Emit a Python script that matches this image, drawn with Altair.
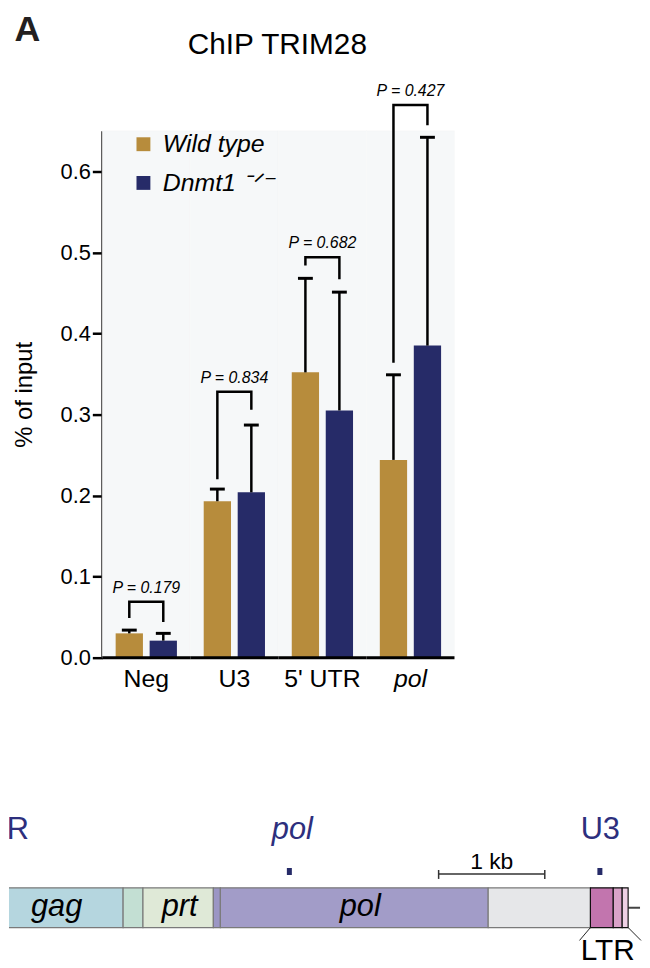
import altair as alt
import pandas as pd

FONT = "Liberation Sans"
GOLD = "#b78c3c"
NAVY = "#262b68"
LABEL_NAVY = "#2d2f7d"
BG = "#f6f8f9"

# ---------------- bar chart data ----------------
regions = ["Neg", "U3", "5' UTR", "pol"]
genotypes = ["Wild type", "Dnmt1 \u207b\u141f\u207b"]
wt_mean = [0.030, 0.193, 0.352, 0.244]
wt_upper = [0.034, 0.208, 0.468, 0.349]
ko_mean = [0.021, 0.204, 0.305, 0.385]
ko_upper = [0.030, 0.287, 0.451, 0.642]
p_labels = ["P = 0.179", "P = 0.834", "P = 0.682", "P = 0.427"]
bracket_top = [0.069, 0.328, 0.494, 0.682]
bracket_left = [0.049, 0.220, 0.484, 0.364]
bracket_right = [0.044, 0.306, 0.467, 0.657]
y_ticks = [0.0, 0.1, 0.2, 0.3, 0.4, 0.5, 0.6]
y_max = 0.65

# ---------------- genome diagram data (kb) ----------------
seg_ids = ["gag", "gag-prt", "prt", "prt-pol", "pol", "3' region", "U3", "R", "U5"]
seg_start = [0.90, 2.243, 2.430, 3.093, 3.159, 5.682, 6.645, 6.860, 6.944]
seg_end = [2.243, 2.430, 3.093, 3.159, 5.682, 6.645, 6.860, 6.944, 7.000]
seg_fill = ["#b5d6df", "#c3dfd3", "#dfe9d7", "#9b96c4", "#a29cc8", "#e6e7e9",
            "#c275ae", "#d9a2c8", "#eed0e4"]
seg_edge = ["#7a7a7a"] * 6 + ["#111111"] * 3
gene_labels = ["gag", "prt", "pol"]
gene_label_pos = [1.617, 2.776, 4.477]
amp_names = ["5' UTR", "pol", "U3"]
amp_center = [0.909, 3.809, 6.734]
amp_label_pos = [0.909, 3.837, 6.738]
amp_italic = [False, True, False]
amp_width = 0.047
scale_bar = [5.215, 6.215]
scale_label = "1 kb"
ltr_span = [6.645, 7.000]
ltr_label_pos = 6.808
ltr_fan = [6.542, 7.121]
tail_end = 7.40
diag_domain = [1.168, 7.112]

# ---------------- tables ----------------
bars_df = pd.DataFrame({
    "region": regions * 2,
    "genotype": [genotypes[0]] * 4 + [genotypes[1]] * 4,
    "mean": wt_mean + ko_mean,
    "upper": wt_upper + ko_upper,
})
br_rows = []
for i, r in enumerate(regions):
    br_rows += [
        {"region": r, "genotype": genotypes[0], "val": bracket_left[i], "k": 0},
        {"region": r, "genotype": genotypes[0], "val": bracket_top[i], "k": 1},
        {"region": r, "genotype": genotypes[1], "val": bracket_top[i], "k": 2},
        {"region": r, "genotype": genotypes[1], "val": bracket_right[i], "k": 3},
    ]
br_df = pd.DataFrame(br_rows)
p_df = pd.DataFrame({"region": regions, "val": bracket_top, "p": p_labels})
reg_df = pd.DataFrame({"region": regions})

YT = "% of input"
x_enc = alt.X(
    "region:N", sort=regions,
    scale=alt.Scale(paddingInner=0, paddingOuter=0.5296, align=1),
    axis=alt.Axis(
        title=None, ticks=False, domain=False, labelAngle=0, labelPadding=9,
        labelFontSize=25, labelColor="black", labelFont=FONT,
        labelFontStyle={"condition": {"test": "datum.value === 'pol'", "value": "italic"},
                        "value": "normal"},
    ),
)
xo_enc = alt.XOffset("genotype:N", sort=genotypes,
                     scale=alt.Scale(paddingInner=0.197, paddingOuter=0.394))
y_scale = alt.Scale(domain=[0, y_max], nice=False, zero=True)
y_axis = alt.Axis(values=y_ticks, format=".1f", grid=False, labelFontSize=22,
                  labelColor="black", labelFont=FONT, tickColor="black", tickWidth=2.5,
                  tickSize=10, labelPadding=2, domainColor="black", domainWidth=3,
                  titleFontSize=24, titleFontWeight="normal", titleColor="black",
                  titleFont=FONT, titlePadding=24, offset=-94)

def Y(f):
    return alt.Y(f, scale=y_scale, axis=y_axis, title=YT)

background = alt.Chart(reg_df).mark_rect(color=BG, stroke=BG, strokeWidth=0.6).encode(
    x=x_enc, y=alt.datum(y_max, scale=y_scale, axis=y_axis, title=YT), y2=alt.datum(0),
)
baseline = alt.Chart(reg_df).mark_rect(fill="transparent", stroke="black",
                                       strokeWidth=3).encode(
    x=x_enc, y=alt.datum(0, scale=y_scale, axis=y_axis, title=YT), y2=alt.datum(0),
)
bars = alt.Chart(bars_df).mark_bar().encode(
    x=x_enc, xOffset=xo_enc, y=Y("mean:Q"),
    color=alt.Color("genotype:N", sort=genotypes,
                    scale=alt.Scale(domain=genotypes, range=[GOLD, NAVY]),
                    legend=alt.Legend(title=None, orient="none", legendX=123, legendY=1,
                                      symbolType="square", symbolSize=196,
                                      symbolStrokeWidth=0, labelFontSize=25,
                                      labelFontStyle="italic", labelFont=FONT,
                                      labelColor="black", labelOffset=7,
                                      rowPadding=13, padding=0)),
)
err = alt.Chart(bars_df).mark_rule(color="black", strokeWidth=2.5).encode(
    x=x_enc, xOffset=xo_enc, y=Y("mean:Q"), y2="upper:Q",
)
caps = alt.Chart(bars_df).mark_tick(color="black", opacity=1, thickness=3, size=15).encode(
    x=x_enc, xOffset=xo_enc, y=Y("upper:Q"),
)
brackets = alt.Chart(br_df).mark_line(color="black", strokeWidth=2.5,
                                      strokeJoin="miter", strokeCap="butt").encode(
    x=x_enc, xOffset=xo_enc, y=Y("val:Q"),
    detail="region:N", order="k:Q",
)
ptext = alt.Chart(p_df).mark_text(fontSize=16, fontStyle="italic", font=FONT,
                                  color="black", dy=-9, baseline="alphabetic").encode(
    x=x_enc, y=Y("val:Q"), text="p:N",
)

top = alt.layer(background, bars, err, caps, brackets, ptext, baseline).properties(
    width=449, height=531,
    view=alt.ViewBackground(fill="transparent", stroke="transparent"),
    title=alt.TitleParams("ChIP TRIM28", fontSize=30, fontWeight="normal", font=FONT,
                          color="black", frame="group", anchor="middle", offset=23,
                          dx=46),
)

# ---------------- genome diagram ----------------
seg_df = pd.DataFrame({"id": seg_ids, "start": seg_start, "end": seg_end})
gene_df = pd.DataFrame({"label": gene_labels, "pos": gene_label_pos})
amp_df = pd.DataFrame({
    "name": amp_names,
    "start": [c - amp_width / 2 for c in amp_center],
    "end": [c + amp_width / 2 for c in amp_center],
    "lab": amp_label_pos,
    "italic": amp_italic,
})
sb_df = pd.DataFrame({"start": [scale_bar[0]], "end": [scale_bar[1]],
                      "mid": [(scale_bar[0] + scale_bar[1]) / 2], "label": [scale_label]})
sb_ends = pd.DataFrame({"pos": scale_bar})
ltr_df = pd.DataFrame({"label": ["LTR"], "pos": [ltr_label_pos]})
fan_df = pd.DataFrame({"a": ltr_span, "b": ltr_fan})
tail_df = pd.DataFrame({"a": [ltr_span[1]], "b": [tail_end]})

dx_scale = alt.Scale(domain=diag_domain, nice=False, zero=False)

def X(f):
    return alt.X(f, scale=dx_scale, axis=None)

segs = alt.Chart(seg_df).mark_rect(strokeWidth=1.2, clip=True).encode(
    x=X("start:Q"), x2="end:Q", y=alt.value(97), y2=alt.value(137),
    fill=alt.Fill("id:N", scale=alt.Scale(domain=seg_ids, range=seg_fill), legend=None),
    stroke=alt.Stroke("id:N", scale=alt.Scale(domain=seg_ids, range=seg_edge), legend=None),
)
genes = alt.Chart(gene_df).mark_text(fontSize=31, fontStyle="italic", font=FONT,
                                     color="black", baseline="alphabetic", clip=True).encode(
    x=X("pos:Q"), y=alt.value(125), text="label:N")
amps = alt.Chart(amp_df).mark_rect(color=NAVY, clip=True).encode(
    x=X("start:Q"), x2="end:Q", y=alt.value(77), y2=alt.value(84))
amp_lab_it = alt.Chart(amp_df).transform_filter("datum.italic").mark_text(
    fontSize=31, fontStyle="italic", font=FONT, color=LABEL_NAVY,
    baseline="alphabetic", clip=True).encode(x=X("lab:Q"), y=alt.value(48), text="name:N")
amp_lab = alt.Chart(amp_df).transform_filter("!datum.italic").mark_text(
    fontSize=31, font=FONT, color=LABEL_NAVY,
    baseline="alphabetic", clip=True).encode(x=X("lab:Q"), y=alt.value(48), text="name:N")
sbar = alt.Chart(sb_df).mark_rule(color="#333333", strokeWidth=1.5).encode(
    x=X("start:Q"), x2="end:Q", y=alt.value(83))
sticks = alt.Chart(sb_ends).mark_rule(color="#333333", strokeWidth=1.5).encode(
    x=X("pos:Q"), y=alt.value(79), y2=alt.value(88))
stext = alt.Chart(sb_df).mark_text(fontSize=23, font=FONT, color="black",
                                  baseline="alphabetic").encode(
    x=X("mid:Q"), y=alt.value(78), text="label:N")
fan = alt.Chart(fan_df).mark_rule(color="#222222", strokeWidth=1).encode(
    x=X("a:Q"), x2="b:Q", y=alt.value(137), y2=alt.value(150))
tail = alt.Chart(tail_df).mark_rule(color="#444444", strokeWidth=2, clip=True).encode(
    x=X("a:Q"), x2="b:Q", y=alt.value(117))
ltr = alt.Chart(ltr_df).mark_text(fontSize=30, font=FONT, color="black",
                                  baseline="alphabetic").encode(
    x=X("pos:Q"), y=alt.value(170), text="label:N")

diagram = alt.layer(tail, segs, genes, amps, amp_lab_it, amp_lab, sbar, sticks, stext,
                    fan, ltr).properties(
    width=636, height=172,
    view=alt.ViewBackground(fill="transparent", stroke="transparent"),
)

chart = alt.vconcat(
    top, diagram, spacing=99,
    title=alt.TitleParams("A", anchor="start", fontSize=36, fontWeight="bold", font=FONT,
                          color="#231f20", offset=-19, frame="bounds", dx=6),
).properties(
    padding={"left": 0, "top": 0, "right": 0, "bottom": 0},
).configure(font=FONT).configure_view(stroke="transparent")

chart.save("out.html", embed_options={"renderer": "svg", "actions": False})
